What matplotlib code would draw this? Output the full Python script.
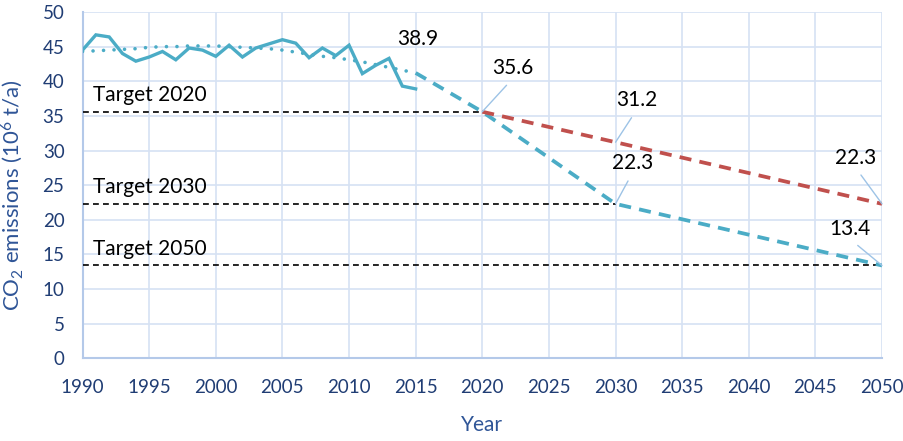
import matplotlib
matplotlib.use('Agg')
import matplotlib.pyplot as plt

# historical emissions (10^6 t/a)
years_hist = list(range(1990, 2016))
co2_hist = [44.5, 46.7, 46.4, 44.0, 42.9, 43.5, 44.3, 43.1, 44.8, 44.5,
            43.6, 45.2, 43.5, 44.8, 45.4, 46.0, 45.5, 43.4, 44.8, 43.7,
            45.2, 41.1, 42.3, 43.3, 39.3, 38.9]
# trend line (dotted)
co2_trend = [44.3, 44.4, 44.5, 44.6, 44.7, 44.9, 45.0, 45.0, 45.1, 45.1,
             45.1, 45.0, 44.9, 44.8, 44.7, 44.5, 44.2, 43.9, 43.6, 43.4,
             43.1, 42.8, 42.4, 42.0, 41.6, 41.2]
# scenarios
years_blue = [2015, 2020, 2030, 2050]
co2_blue = [41.2, 35.6, 22.3, 13.4]
years_red = [2020, 2030, 2050]
co2_red = [35.6, 31.2, 22.3]
# targets
target_names = ['Target 2020', 'Target 2030', 'Target 2050']
target_years = [2020, 2030, 2050]
target_vals = [35.6, 22.3, 13.4]
# data labels: (label, x, y)
label_pts = [('38.9', 2015, 38.9), ('35.6', 2020, 35.6), ('31.2', 2030, 31.2),
             ('22.3', 2030, 22.3), ('22.3', 2050, 22.3), ('13.4', 2050, 13.4)]

BLUE = '#4bacc6'
RED = '#c0504d'
GRID = '#d6e2f3'
TICK = '#203d74'
LABEL = '#2f5597'

plt.rcParams['font.family'] = ['Lato', 'DejaVu Sans']
plt.rcParams['mathtext.fontset'] = 'custom'
plt.rcParams['mathtext.rm'] = 'Lato'
plt.rcParams['mathtext.it'] = 'Lato:italic'

fig = plt.figure(figsize=(9.04, 4.41), dpi=100)
ax = fig.add_axes([0.0913, 0.1875, 0.8844, 0.7853])

# targets
for name, ty, tv in zip(target_names, target_years, target_vals):
    ax.plot([1990, ty], [tv, tv], color='black', lw=1.2,
            linestyle=(0, (3.5, 2.5)), zorder=3)
    ax.text(1990.8, tv + 1.5, name, fontsize=15, color='black',
            va='baseline', ha='left', zorder=5)

ax.plot(years_hist, co2_trend, color=BLUE, lw=2.6,
        linestyle=(0, (0.01, 2.9)), dash_capstyle='round', zorder=4)
ax.plot(years_hist, co2_hist, color=BLUE, lw=2.4, zorder=4,
        solid_joinstyle='miter')
ax.plot(years_blue, co2_blue, color=BLUE, lw=2.7,
        linestyle=(0, (3.2, 2.2)), zorder=4)
ax.plot(years_red, co2_red, color=RED, lw=2.7,
        linestyle=(0, (3.2, 2.2)), zorder=4)

# offsets of the data labels (points)
offsets = [(1.5, 29), (22, 24), (15, 23), (12, 22), (-19, 26), (-23, 19)]
for i, ((txt, x, y), off) in enumerate(zip(label_pts, offsets)):
    if i == 0:
        ax.annotate(txt, xy=(x, y), xytext=off, textcoords='offset points',
                    fontsize=15, ha='center', va='bottom', zorder=6)
    else:
        ax.annotate(txt, xy=(x, y), xytext=off, textcoords='offset points',
                    fontsize=15, ha='center', va='bottom', zorder=6,
                    arrowprops=dict(arrowstyle='-', color='#9dc3e6', lw=1,
                                    shrinkA=4, shrinkB=0,
                                    relpos=(0.5, 0)))

ax.set_xlim(1990, 2050)
ax.set_ylim(0, 50)
ax.set_xticks(range(1990, 2051, 5))
ax.set_yticks(range(0, 51, 5))
ax.grid(True, color=GRID, lw=1.2, zorder=0)
ax.set_axisbelow(True)
for s in ['top', 'right']:
    ax.spines[s].set_visible(False)
for s in ['left', 'bottom']:
    ax.spines[s].set_color('#b4c9e9')
    ax.spines[s].set_linewidth(1.5)
ax.tick_params(length=0, colors=TICK, labelsize=13.5)
ax.tick_params(axis='x', pad=15)
ax.tick_params(axis='y', pad=13)

fig.text(12.5 / 904, 1 - 195 / 441, r'CO$_2$ emissions (10$^6$ t/a)',
         rotation=90, ha='center', va='center', fontsize=16, color=LABEL)
fig.text(482 / 904, 1 - 425 / 441, 'Year', ha='center', va='center',
         fontsize=15, color=LABEL)

fig.savefig('out.png', dpi=100)
